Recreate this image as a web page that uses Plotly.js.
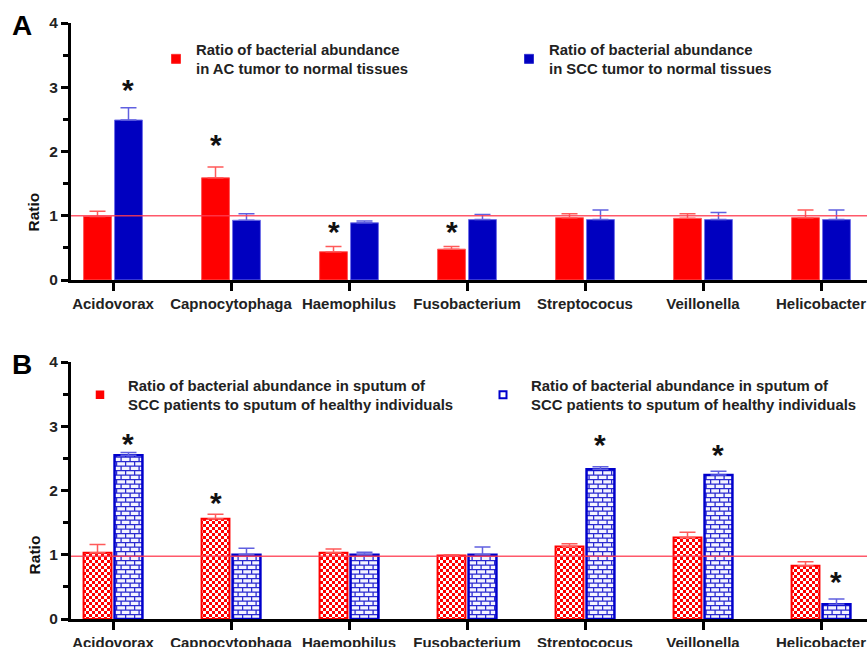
<!DOCTYPE html>
<html><head><meta charset="utf-8">
<script src="https://cdn.plot.ly/plotly-3.0.1.min.js"></script>
<style>html,body{margin:0;padding:0;background:#fff}#chart{width:867px;height:647px}</style>
</head><body><div id="chart"></div>
<script>
// ---------- data ----------
var categories = ['Acidovorax','Capnocytophaga','Haemophilus','Fusobacterium','Streptococus','Veillonella','Helicobacter'];

// Panel A
var nameAC  = 'Ratio of bacterial abundance<br>in AC tumor to normal tissues';
var nameSCC = 'Ratio of bacterial abundance<br>in SCC tumor to normal tissues';
var acTumor    = [0.99, 1.59, 0.44, 0.48, 0.97, 0.96, 0.97];
var acTumorSE  = [0.08, 0.17, 0.08, 0.04, 0.06, 0.07, 0.12];
var sccTumor   = [2.49, 0.93, 0.89, 0.94, 0.94, 0.94, 0.94];
var sccTumorSE = [0.19, 0.10, 0.03, 0.08, 0.15, 0.11, 0.15];

// Panel B
var nameSputRed  = 'Ratio of bacterial abundance in sputum of<br>SCC patients to sputum of healthy individuals';
var nameSputBlue = 'Ratio of bacterial abundance in sputum of<br>SCC patients to sputum of healthy individuals';
var sputRed    = [1.03, 1.56, 1.03, 0.99, 1.13, 1.27, 0.83];
var sputRedSE  = [0.13, 0.07, 0.06, 0.01, 0.04, 0.08, 0.06];
var sputBlue   = [2.55, 1.00, 1.00, 1.00, 2.33, 2.24, 0.23];
var sputBlueSE = [0.04, 0.10, 0.04, 0.12, 0.04, 0.06, 0.08];

var zeros = [0, 0, 0, 0, 0, 0, 0];

// y-axis tick labels
var yTickVals = [0, 1, 2, 3, 4];
var yTickText = ['0', '1', '2', '3', '4'];

// significance markers: category index, series (0 = red, 1 = blue), height of the star
var sigA_cat = [0, 1, 2, 3];
var sigA_ser = [1, 0, 0, 0];
var sigA_y   = [3.03, 2.17, 0.81, 0.81];
var sigB_cat = [0, 1, 4, 5, 6];
var sigB_ser = [1, 0, 1, 1, 1];
var sigB_y   = [2.79, 1.88, 2.78, 2.62, 0.64];

var refLineA = 1.0;
var refLineB = 0.975;

// ---------- chart ----------
var FONT = 'Liberation Sans, Arial, sans-serif';
var RED = '#ff0000', BLUE = '#0000c0';

var W = 867, H = 647, ML = 71, MT = 23, MB = 28;
var plotW = W - ML, plotH = H - MT - MB;
function px2paperX(px){ return (px - ML) / plotW; }
function py2paperY(py){ return (H - MB - py) / plotH; }

function errBar(arr, color) {
  return {type:'data', symmetric:false, array:arr, arrayminus:zeros, color:color, thickness:1.5, width:8};
}

var data = [
  {type:'bar', name:nameAC, x:categories, y:acTumor, xaxis:'x', yaxis:'y', legend:'legend', uid:'acRed', legendwidth:308,
   marker:{color:RED, line:{color:'#ff5a5a', width:1}}, error_y:errBar(acTumorSE, '#ff5a5a')},
  {type:'bar', name:nameSCC, x:categories, y:sccTumor, xaxis:'x', yaxis:'y', legend:'legend', uid:'sccBlue', legendwidth:235,
   marker:{color:BLUE, line:{color:'#7070e8', width:1}}, error_y:errBar(sccTumorSE, '#6060e0')},
  {type:'bar', name:nameSputRed, x:categories, y:sputRed, xaxis:'x2', yaxis:'y2', legend:'legend2', uid:'sputRed', legendwidth:342,
   marker:{color:'#ffffff', line:{color:RED, width:2}, pattern:{shape:'+', fgcolor:RED, bgcolor:'#ffffff', size:6, solidity:0.5, fillmode:'overlay'}},
   error_y:errBar(sputRedSE, '#ff5a5a')},
  {type:'bar', name:nameSputBlue, x:categories, y:sputBlue, xaxis:'x2', yaxis:'y2', legend:'legend2', uid:'sputBlue', legendwidth:332,
   marker:{color:'#ffffff', line:{color:'#0000cc', width:2.5}, pattern:{shape:'+', fgcolor:'#2020d0', bgcolor:'#ffffff', size:8, solidity:0.2, fillmode:'overlay'}},
   error_y:errBar(sputBlueSE, '#6060e0')}
];

var BAR_OFF = 0.131;
var annotations = [];
function addStars(cats, sers, ys, xref, yref) {
  for (var i = 0; i < cats.length; i++) {
    annotations.push({x: cats[i] + (sers[i] ? BAR_OFF : -BAR_OFF), y: ys[i], xref:xref, yref:yref,
      text:'*', showarrow:false, yanchor:'middle', xanchor:'center', yshift:-4,
      font:{family:FONT, size:30, color:'#111', weight:'bold'}});
  }
}
addStars(sigA_cat, sigA_ser, sigA_y, 'x', 'y');
addStars(sigB_cat, sigB_ser, sigB_y, 'x2', 'y2');

annotations.push({text:'A', xref:'paper', yref:'paper', x:px2paperX(22), y:py2paperY(25), showarrow:false,
  xanchor:'center', yanchor:'middle', font:{family:FONT, size:28, color:'#000', weight:'bold'}});
annotations.push({text:'B', xref:'paper', yref:'paper', x:px2paperX(22), y:py2paperY(364), showarrow:false,
  xanchor:'center', yanchor:'middle', font:{family:FONT, size:28, color:'#000', weight:'bold'}});
annotations.push({text:'Ratio', xref:'paper', yref:'y', x:px2paperX(34), y:1.05, textangle:-90, showarrow:false,
  xanchor:'center', yanchor:'middle', font:{family:FONT, size:15.5, color:'#111', weight:'bold'}});
annotations.push({text:'Ratio', xref:'paper', yref:'y2', x:px2paperX(34), y:0.99, textangle:-90, showarrow:false,
  xanchor:'center', yanchor:'middle', font:{family:FONT, size:15.5, color:'#111', weight:'bold'}});

var CAT0_PX = 113, CAT_STEP = 118;
var xRange = [(ML - CAT0_PX) / CAT_STEP, (W - CAT0_PX) / CAT_STEP];

function xAxis(anchor) {
  return {anchor:anchor, domain:[0,1], type:'category', range:xRange,
    showline:true, linewidth:3, linecolor:'#000', ticks:'outside', ticklen:8, tickwidth:3, tickcolor:'#000',
    showgrid:false, zeroline:false, tickfont:{family:FONT, size:15, color:'#222', weight:'bold'}, fixedrange:true};
}
function yAxis(anchor, dom) {
  return {anchor:anchor, domain:dom, range:[0,4], tickmode:'array', tickvals:yTickVals, ticktext:yTickText,
    showline:true, linewidth:3, linecolor:'#000', ticks:'outside', ticklen:7, tickwidth:3, tickcolor:'#000',
    minor:{tickmode:'linear', tick0:0, dtick:0.5, ticks:'outside', ticklen:5, tickwidth:3, tickcolor:'#000', showgrid:false},
    showgrid:false, zeroline:false,
    tickfont:{family:FONT, size:15.5, color:'#222', weight:'bold'}, fixedrange:true};
}

var legendFont = {family:FONT, size:14.9, color:'#222', weight:'bold'};
var layout = {
  width:W, height:H, margin:{l:ML, r:0, t:MT, b:MB, pad:0, autoexpand:false},
  paper_bgcolor:'#ffffff', plot_bgcolor:'rgba(0,0,0,0)',
  font:{family:FONT, size:15, color:'#222'},
  barmode:'group', bargap:0.475, bargroupgap:0.1,
  xaxis:xAxis('y'), yaxis:yAxis('x', [py2paperY(280), 1]),
  xaxis2:xAxis('y2'), yaxis2:yAxis('x2', [0, py2paperY(362)]),
  showlegend:true,
  legend:{xref:'paper', yref:'paper', x:px2paperX(156), y:py2paperY(33), xanchor:'left', yanchor:'top',
    orientation:'h', entrywidthmode:'pixels', bgcolor:'rgba(0,0,0,0)', borderwidth:0,
    font:legendFont, traceorder:'normal', itemclick:false, itemdoubleclick:false},
  legend2:{xref:'paper', yref:'paper', x:px2paperX(72), y:py2paperY(369), xanchor:'left', yanchor:'top',
    orientation:'h', itemwidth:46, entrywidthmode:'pixels', bgcolor:'rgba(0,0,0,0)', borderwidth:0,
    font:legendFont, traceorder:'normal', itemclick:false, itemdoubleclick:false},
  shapes:[
    {type:'line', xref:'paper', yref:'y', x0:0, x1:1, y0:refLineA, y1:refLineA, layer:'above', line:{color:'rgba(255,60,80,0.85)', width:1.5}},
    {type:'line', xref:'paper', yref:'y2', x0:0, x1:1, y0:refLineB, y1:refLineB, layer:'above', line:{color:'rgba(255,60,80,0.85)', width:1.5}}
  ],
  annotations:annotations
};

var gd = document.getElementById('chart');

function applyPatterns() {
  var ns = 'http://www.w3.org/2000/svg';
  var svg = gd.querySelector('svg.main-svg');
  if (!svg) return;
  var defs = svg.querySelector('defs');
  function mk(tag, attrs, parent) { var e = document.createElementNS(ns, tag); for (var k in attrs) e.setAttribute(k, attrs[k]); parent.appendChild(e); return e; }
  if (!document.getElementById('chkPat')) {
    var p = mk('pattern', {id:'chkPat', patternUnits:'userSpaceOnUse', width:6, height:6}, defs);
    mk('rect', {x:0, y:0, width:6, height:6, fill:'#ffffff'}, p);
    mk('rect', {x:0, y:0, width:3, height:3, fill:'#ff0000'}, p);
    mk('rect', {x:3, y:3, width:3, height:3, fill:'#ff0000'}, p);
    var q = mk('pattern', {id:'brickPat', patternUnits:'userSpaceOnUse', width:9, height:9}, defs);
    mk('rect', {x:0, y:0, width:9, height:9, fill:'#f4f4ff'}, q);
    mk('path', {d:'M0,0.6H9M0,5.1H9M0.6,0.6V5.1M5.1,5.1V9', stroke:'#2a2ad0', 'stroke-width':1.3, fill:'none'}, q);
  }
  var map = {sputRed:'chkPat', sputBlue:'brickPat'};
  gd.querySelectorAll('.barlayer g.trace').forEach(function(g) {
    var d = g.__data__; var tr = d && d[0] && d[0].trace;
    if (!tr || !map[tr.uid]) return;
    g.querySelectorAll('g.point path').forEach(function(p) { p.style.fill = 'url(#' + map[tr.uid] + ')'; });
  });
  // legend symbols: smaller squares as in the reference
  var legSym = {
    acRed:   {d:'M4.5,4.5H-4.5V-4.5H4.5Z', fill:'#ff0000', stroke:'#ff3030', sw:1},
    sccBlue: {d:'M4.5,4.5H-4.5V-4.5H4.5Z', fill:'#0000c0', stroke:'#3030d0', sw:1},
    sputRed: {d:'M3.5,3.5H-3.5V-3.5H3.5Z', fill:'#ff0000', stroke:'#ff0000', sw:1.5},
    sputBlue:{d:'M3.5,3.5H-3.5V-3.5H3.5Z', fill:'#ffffff', stroke:'#0000cc', sw:2}
  };
  gd.querySelectorAll('.infolayer g.traces').forEach(function(g) {
    var d = g.__data__; var tr = d && d[0] && d[0].trace;
    if (!tr || !legSym[tr.uid]) return;
    var s = legSym[tr.uid];
    g.querySelectorAll('.legendpoints path').forEach(function(p) {
      p.setAttribute('d', s.d);
      p.style.fill = s.fill;
      p.style.stroke = s.stroke;
      p.style.strokeWidth = s.sw + 'px';
    });
  });
}

Plotly.newPlot(gd, data, layout, {staticPlot:true, displayModeBar:false}).then(applyPatterns);
</script>
</body></html>
